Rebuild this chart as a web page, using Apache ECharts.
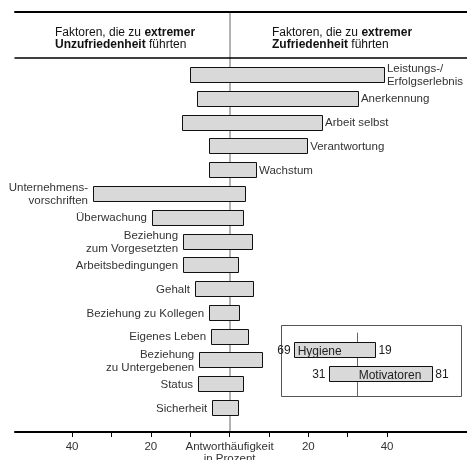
<!DOCTYPE html>
<html>
<head>
<meta charset="utf-8">
<script src="https://cdn.jsdelivr.net/npm/echarts@6/dist/echarts.min.js"></script>
<style>
  html, body { margin: 0; padding: 0; background: #fff; }
  #chart { width: 467px; height: 460px; }
</style>
</head>
<body>
<div id="chart"></div>
<script>
// Faktoren, die zu extremer Zufriedenheit führten (Motivatoren)
const motivatoren = ['Leistungs-/\nErfolgserlebnis', 'Anerkennung', 'Arbeit selbst', 'Verantwortung', 'Wachstum'];
// Faktoren, die zu extremer Unzufriedenheit führten (Hygienefaktoren)
const hygienefaktoren = ['Unternehmens-\nvorschriften', 'Überwachung', 'Beziehung\nzum Vorgesetzten', 'Arbeitsbedingungen',
  'Gehalt', 'Beziehung zu Kollegen', 'Eigenes Leben', 'Beziehung\nzu Untergebenen', 'Status', 'Sicherheit'];
// Antworthäufigkeit in Prozent (links: Unzufriedenheit, rechts: Zufriedenheit)
const unzufriedenheit = [10.0, 8.3, 12.1, 5.2, 5.2, 34.7, 19.7, 11.8, 11.8, 8.8, 5.2, 4.7, 7.7, 8.0, 4.4];
const zufriedenheit = [39.2, 32.6, 23.5, 19.7, 6.7, 3.9, 3.4, 5.7, 2.2, 6.0, 2.4, 4.7, 8.3, 3.4, 2.2];
// Achsenteilung
const tickWerte = [-40, -30, -20, -10, 0, 10, 20, 30, 40];
const beschriftungWerte = [-40, -20, 0, 20, 40];
// Zusammenfassung
const gruppen = ['Hygiene', 'Motivatoren'];
const gruppeUnzufrieden = [69, 31];
const gruppeZufrieden = [19, 81];

const faktoren = motivatoren.concat(hygienefaktoren);
const FONT = '"Liberation Sans", Arial, sans-serif';
const BAR_FILL = '#d9d9d9';
const BAR_STROKE = '#111';

function renderFaktor(params, api) {
  const i = api.value(0);
  const links = api.coord([-api.value(1), i]);
  const rechts = api.coord([api.value(2), i]);
  const h = api.size([0, 1])[1] * 0.63;
  const name = faktoren[params.dataIndex];
  const rechtsBeschriftet = params.dataIndex < motivatoren.length;
  return {
    type: 'group',
    children: [
      {
        type: 'rect',
        shape: { x: Math.round(links[0]) + 0.5, y: Math.round(links[1] - h / 2) + 0.5,
                 width: Math.round(rechts[0] - links[0]), height: Math.round(h) },
        style: { fill: BAR_FILL, stroke: BAR_STROKE, lineWidth: 1 }
      },
      {
        type: 'text',
        style: {
          text: name,
          x: rechtsBeschriftet ? rechts[0] + 3 : links[0] - 5,
          y: links[1] + 1,
          align: rechtsBeschriftet ? 'left' : 'right',
          verticalAlign: 'middle',
          font: '11.5px ' + FONT,
          fill: '#333',
          lineHeight: 13
        }
      }
    ]
  };
}

function renderGruppe(params, api) {
  const i = api.value(0);
  const links = api.coord([-api.value(1), i]);
  const rechts = api.coord([api.value(2), i]);
  const h = api.size([0, 1])[1] * 0.625;
  const k = params.dataIndex;
  const font = '12px ' + FONT;
  const breite = rechts[0] - links[0];
  return {
    type: 'group',
    children: [
      {
        type: 'rect',
        shape: { x: Math.round(links[0]) + 0.5, y: Math.round(links[1] - h / 2) + 0.5,
                 width: Math.round(breite), height: Math.round(h) },
        style: { fill: BAR_FILL, stroke: BAR_STROKE, lineWidth: 1 }
      },
      {
        type: 'text',
        style: { text: String(gruppeUnzufrieden[k]), x: links[0] - 3, y: links[1] + 1,
                 align: 'right', verticalAlign: 'middle', font: font, fill: '#222' }
      },
      {
        type: 'text',
        style: { text: String(gruppeZufrieden[k]), x: rechts[0] + 4, y: links[1] + 1,
                 align: 'left', verticalAlign: 'middle', font: font, fill: '#222' }
      },
      {
        type: 'text',
        style: { text: gruppen[k], x: k === 0 ? links[0] + 4 : rechts[0] - 10, y: links[1] + 2,
                 align: k === 0 ? 'left' : 'right', verticalAlign: 'middle', font: font, fill: '#222' }
      }
    ]
  };
}

const kopfRich = {
  n: { fontFamily: FONT, fontSize: 12, fontWeight: 'normal', color: '#111', lineHeight: 12 },
  b: { fontFamily: FONT, fontSize: 12, fontWeight: 'bold', color: '#111', lineHeight: 12 }
};

const mainMin = -54.5, mainMax = 60.3;

const option = {
  animation: false,
  backgroundColor: '#fff',
  title: [
    { left: 55, top: 27, padding: 0,
      text: '{n|Faktoren, die zu }{b|extremer}\n{b|Unzufriedenheit}{n| führten}',
      textStyle: { rich: kopfRich, fontWeight: 'normal', lineHeight: 12 } },
    { left: 272, top: 27, padding: 0,
      text: '{n|Faktoren, die zu }{b|extremer}\n{b|Zufriedenheit}{n| führten}',
      textStyle: { rich: kopfRich, fontWeight: 'normal', lineHeight: 12 } }
  ],
  grid: [
    { left: 15, right: 0, top: 12, height: 46, containLabel: false, outerBoundsMode: 'none' },
    { left: 15, right: 0, top: 58, bottom: 28, containLabel: false, outerBoundsMode: 'none' },
    { left: 282, width: 179, top: 333, bottom: 64, containLabel: false, outerBoundsMode: 'none' }
  ],
  xAxis: [
    { gridIndex: 0, type: 'value', position: 'top', min: mainMin, max: mainMax,
      axisLine: { onZero: false, lineStyle: { color: '#000', width: 2 } },
      axisTick: { show: false }, axisLabel: { show: false }, splitLine: { show: false } },
    { gridIndex: 0, type: 'value', position: 'bottom', min: mainMin, max: mainMax,
      axisLine: { onZero: false, lineStyle: { color: '#000', width: 1.5 } },
      axisTick: { show: false }, axisLabel: { show: false }, splitLine: { show: false } },
    { gridIndex: 1, type: 'value', position: 'bottom', min: mainMin, max: mainMax,
      axisLine: { onZero: false, lineStyle: { color: '#000', width: 2 } },
      axisTick: { show: true, customValues: tickWerte, length: 5, lineStyle: { color: '#000', width: 1 } },
      axisLabel: {
        show: true, customValues: beschriftungWerte, margin: 9,
        fontFamily: FONT, fontSize: 11.5, color: '#333', lineHeight: 12,
        formatter: function (v) { return v === 0 ? 'Antworthäufigkeit\nin Prozent' : String(Math.abs(v)); }
      },
      splitLine: { show: false } },
    { gridIndex: 2, type: 'value', min: -81.7, max: 113.3, show: false,
      axisLine: { onZero: false } }
  ],
  yAxis: [
    { gridIndex: 0, type: 'value', min: 0, max: 1,
      axisLine: { show: true, onZero: true, lineStyle: { color: '#999', width: 1.5 } },
      axisTick: { show: false }, axisLabel: { show: false }, splitLine: { show: false } },
    { gridIndex: 1, type: 'value', inverse: true, min: -0.6936, max: 15.027,
      axisLine: { show: true, onZero: true, lineStyle: { color: '#999', width: 1.5 } },
      axisTick: { show: false }, axisLabel: { show: false }, splitLine: { show: false } },
    { gridIndex: 2, type: 'value', inverse: true, min: -0.6875, max: 1.9375,
      axisLine: { show: true, onZero: true, lineStyle: { color: '#666', width: 1 } },
      axisTick: { show: false }, axisLabel: { show: false }, splitLine: { show: false } }
  ],
  graphic: [
    { type: 'rect', shape: { x: 281.5, y: 325.5, width: 180, height: 71 },
      style: { fill: null, stroke: '#555', lineWidth: 1 }, silent: true }
  ],
  series: [
    {
      type: 'custom', xAxisIndex: 2, yAxisIndex: 1,
      renderItem: renderFaktor,
      encode: { x: [1, 2], y: 0 },
      data: faktoren.map(function (n, i) { return [i, unzufriedenheit[i], zufriedenheit[i]]; })
    },
    {
      type: 'custom', xAxisIndex: 3, yAxisIndex: 2,
      renderItem: renderGruppe,
      encode: { x: [1, 2], y: 0 },
      data: gruppen.map(function (n, i) { return [i, gruppeUnzufrieden[i], gruppeZufrieden[i]]; })
    }
  ]
};

const chart = echarts.init(document.getElementById('chart'), null, { renderer: 'canvas' });
chart.setOption(option);
</script>
</body>
</html>
